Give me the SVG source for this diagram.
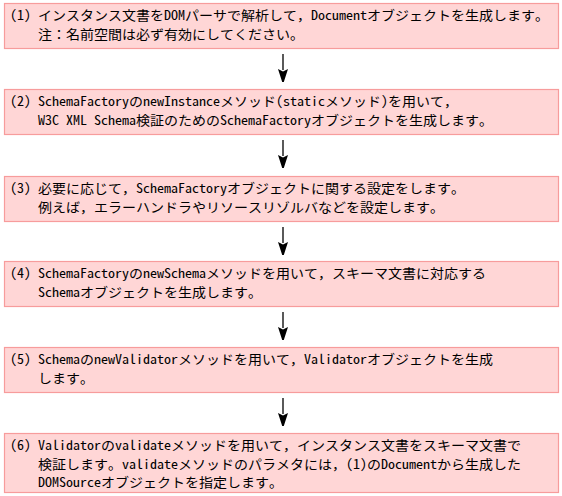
<svg xmlns="http://www.w3.org/2000/svg" width="562" height="496" viewBox="0 0 562 496">
<style>
.box{fill:#ffd6d6;stroke:#f79c9c;stroke-width:1.2}
text{font-family:"Noto Sans Mono CJK JP","Noto Sans CJK JP",monospace;font-size:13px;fill:#000}
.ln{stroke:#000;stroke-width:1.3;fill:none}
.hd{fill:#000;stroke:none}
</style>
<g id="connectors">
<line class="ln" x1="283" y1="54" x2="283" y2="70"/><path class="hd" d="M278,69 L283,71.5 L288,69 L283.8,82 L282.2,82 Z"/>
<line class="ln" x1="283" y1="140" x2="283" y2="156"/><path class="hd" d="M278,155 L283,157.5 L288,155 L283.8,168 L282.2,168 Z"/>
<line class="ln" x1="283" y1="227" x2="283" y2="243"/><path class="hd" d="M278,242 L283,244.5 L288,242 L283.8,255 L282.2,255 Z"/>
<line class="ln" x1="283" y1="312" x2="283" y2="328"/><path class="hd" d="M278,327 L283,329.5 L288,327 L283.8,340 L282.2,340 Z"/>
<line class="ln" x1="283" y1="398" x2="283" y2="414"/><path class="hd" d="M278,413 L283,415.5 L288,413 L283.8,426 L282.2,426 Z"/>
</g>
<g id="step1">
<rect class="box" x="4.5" y="3.5" width="554" height="45"/>
<text x="10" y="20" textLength="539" lengthAdjust="spacingAndGlyphs">(1) インスタンス文書をDOMパーサで解析して，Documentオブジェクトを生成します。</text>
<text x="38" y="38.5" textLength="266" lengthAdjust="spacingAndGlyphs">注：名前空間は必ず有効にしてください。</text>
</g>
<g id="step2">
<rect class="box" x="4.5" y="89.5" width="554" height="45"/>
<text x="10" y="106" textLength="448" lengthAdjust="spacingAndGlyphs">(2) SchemaFactoryのnewInstanceメソッド(staticメソッド)を用いて，</text>
<text x="38" y="124.5" textLength="455" lengthAdjust="spacingAndGlyphs">W3C XML Schema検証のためのSchemaFactoryオブジェクトを生成します。</text>
</g>
<g id="step3">
<rect class="box" x="4.5" y="176.5" width="554" height="45"/>
<text x="10" y="193" textLength="455" lengthAdjust="spacingAndGlyphs">(3) 必要に応じて，SchemaFactoryオブジェクトに関する設定をします。</text>
<text x="38" y="211.5" textLength="406" lengthAdjust="spacingAndGlyphs">例えば，エラーハンドラやリソースリゾルバなどを設定します。</text>
</g>
<g id="step4">
<rect class="box" x="4.5" y="261.5" width="554" height="45"/>
<text x="10" y="278" textLength="476" lengthAdjust="spacingAndGlyphs">(4) SchemaFactoryのnewSchemaメソッドを用いて，スキーマ文書に対応する</text>
<text x="38" y="296.5" textLength="224" lengthAdjust="spacingAndGlyphs">Schemaオブジェクトを生成します。</text>
</g>
<g id="step5">
<rect class="box" x="4.5" y="347.5" width="554" height="45"/>
<text x="10" y="364" textLength="483" lengthAdjust="spacingAndGlyphs">(5) SchemaのnewValidatorメソッドを用いて，Validatorオブジェクトを生成</text>
<text x="38" y="382.5" textLength="56" lengthAdjust="spacingAndGlyphs">します。</text>
</g>
<g id="step6">
<rect class="box" x="4.5" y="433.5" width="554" height="59"/>
<text x="10" y="450" textLength="511" lengthAdjust="spacingAndGlyphs">(6) Validatorのvalidateメソッドを用いて，インスタンス文書をスキーマ文書で</text>
<text x="38" y="468.5" textLength="483" lengthAdjust="spacingAndGlyphs">検証します。validateメソッドのパラメタには，(1)のDocumentから生成した</text>
<text x="38" y="487" textLength="245" lengthAdjust="spacingAndGlyphs">DOMSourceオブジェクトを指定します。</text>
</g>
</svg>
